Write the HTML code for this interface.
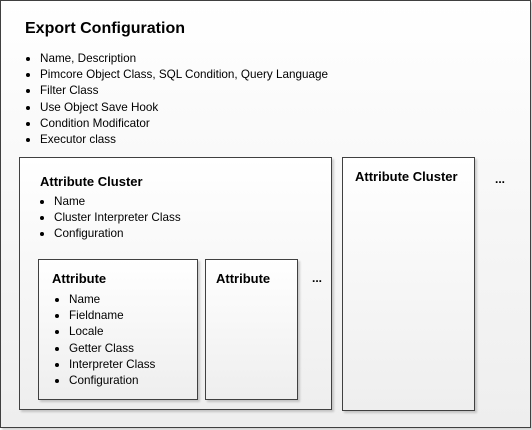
<!DOCTYPE html>
<html><head><style>
body{margin:0;width:532px;height:430px;background:#fff;font-family:"Liberation Sans",sans-serif;color:#000;overflow:hidden}
.b{position:absolute;border:1px solid #404040;background:linear-gradient(#fff,#eeeeee);box-shadow:2px 2px 2px rgba(0,0,0,.18)}
.t{position:absolute;font-weight:bold;white-space:nowrap}
.l{position:absolute;font-size:11.7px;line-height:16.2px;white-space:nowrap}
.l div{position:relative;padding-left:15px}
.l div:before{content:"";position:absolute;left:1px;top:6px;width:4px;height:4px;border-radius:50%;background:#000}
</style></head><body>
<div class="b" style="left:0;top:0;width:529px;height:426px"></div>
<div class="t" style="left:25px;top:20px;font-size:16px">Export Configuration</div>
<div class="l" style="left:25px;top:51px">
<div>Name, Description</div><div>Pimcore Object Class, SQL Condition, Query Language</div><div>Filter Class</div><div>Use Object Save Hook</div><div>Condition Modificator</div><div>Executor class</div></div>
<div class="b" style="left:19px;top:157px;width:311px;height:251px"></div>
<div class="t" style="left:40px;top:174px;font-size:13px">Attribute Cluster</div>
<div class="l" style="left:39px;top:194px"><div>Name</div><div>Cluster Interpreter Class</div><div>Configuration</div></div>
<div class="b" style="left:38px;top:259px;width:158px;height:139px"></div>
<div class="t" style="left:52px;top:271px;font-size:13px">Attribute</div>
<div class="l" style="left:54px;top:292px"><div>Name</div><div>Fieldname</div><div>Locale</div><div>Getter Class</div><div>Interpreter Class</div><div>Configuration</div></div>
<div class="b" style="left:205px;top:259px;width:91px;height:139px"></div>
<div class="t" style="left:216px;top:271px;font-size:13px">Attribute</div>
<div class="t" style="left:312px;top:271px;font-size:12px">...</div>
<div class="b" style="left:342px;top:157px;width:131px;height:252px"></div>
<div class="t" style="left:355px;top:169px;font-size:13px">Attribute Cluster</div>
<div class="t" style="left:495px;top:172px;font-size:12px">...</div>
</body></html>
